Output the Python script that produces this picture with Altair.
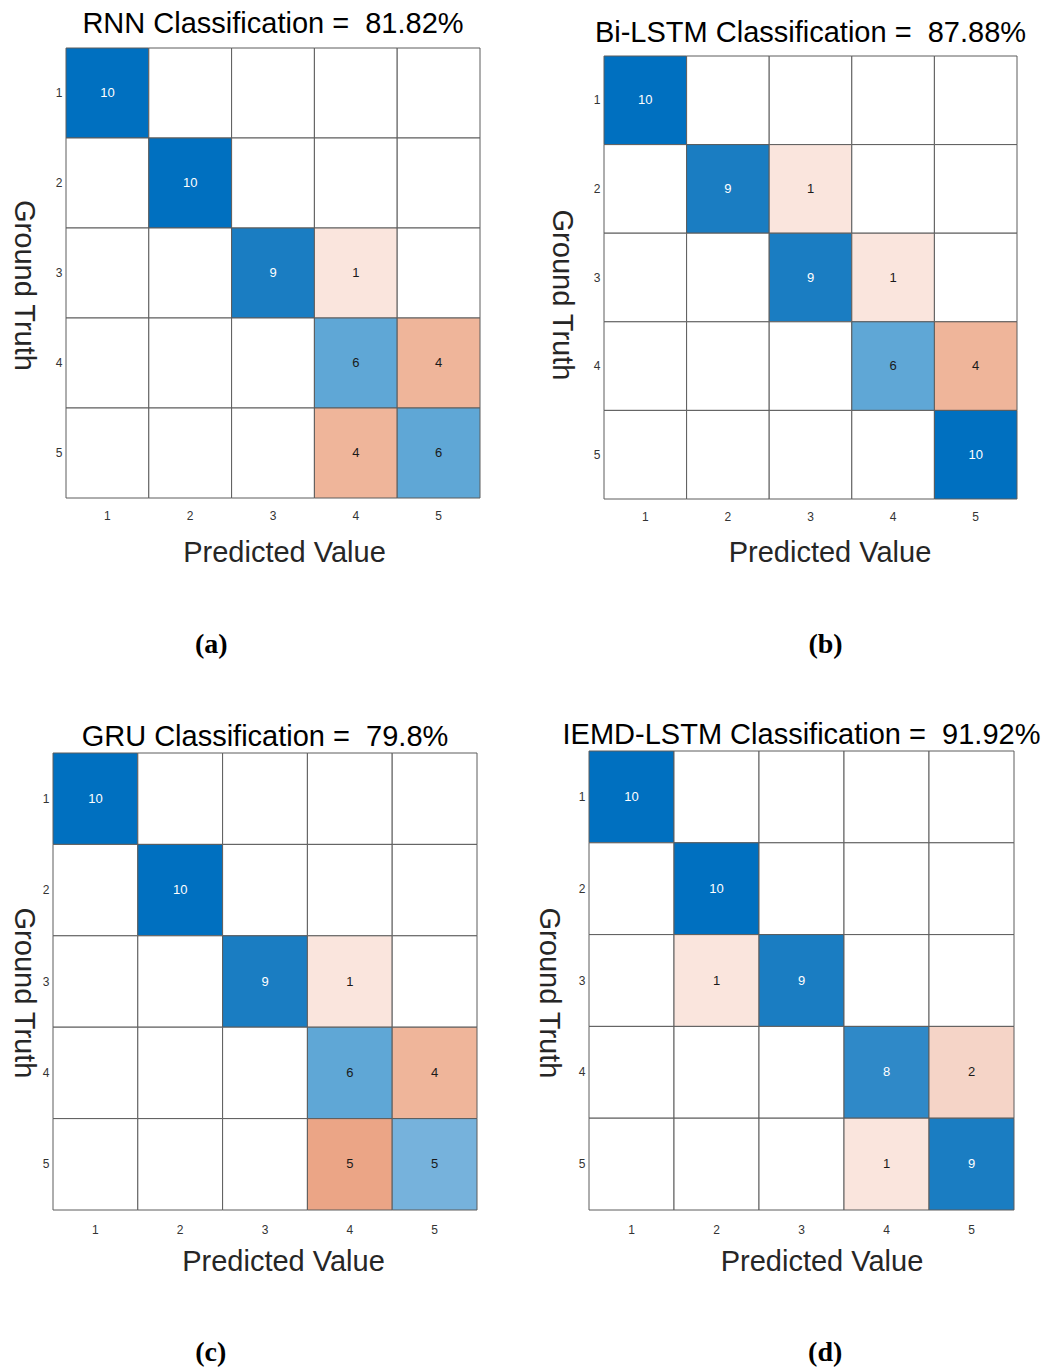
import altair as alt
import pandas as pd

# ---------------- data ----------------
CLASS_LABELS = ["1", "2", "3", "4", "5"]

RNN = [[10, 0, 0, 0, 0],
       [0, 10, 0, 0, 0],
       [0, 0, 9, 1, 0],
       [0, 0, 0, 6, 4],
       [0, 0, 0, 4, 6]]

BILSTM = [[10, 0, 0, 0, 0],
          [0, 9, 1, 0, 0],
          [0, 0, 9, 1, 0],
          [0, 0, 0, 6, 4],
          [0, 0, 0, 0, 10]]

GRU = [[10, 0, 0, 0, 0],
       [0, 10, 0, 0, 0],
       [0, 0, 9, 1, 0],
       [0, 0, 0, 6, 4],
       [0, 0, 0, 5, 5]]

IEMD = [[10, 0, 0, 0, 0],
        [0, 10, 0, 0, 0],
        [0, 1, 9, 0, 0],
        [0, 0, 0, 8, 2],
        [0, 0, 0, 1, 9]]

TITLES = ["RNN Classification =\u00a0 81.82%",
          "Bi-LSTM Classification =\u00a0 87.88%",
          "GRU Classification =\u00a0 79.8%",
          "IEMD-LSTM Classification =\u00a0 91.92%"]
CAPTIONS = ["(a)", "(b)", "(c)", "(d)"]

# signed count: + on the diagonal (blue), - off the diagonal (orange), 0 = white
COLOR_DOMAIN = [-10, -5, -4, -2, -1, 0, 5, 6, 8, 9, 10]
COLOR_RANGE = ["#D95319", "#EBA586", "#EFB59A", "#F5D4C7", "#FAE5DD", "#FFFFFF",
               "#76B2DC", "#5FA7D6", "#2F89C8", "#1A7DC2", "#0070C0"]

SANS = "Liberation Sans"
LABEL_W = 6.67  # width of a one-digit tick label at 12px


def spacer(w, h):
    return alt.Chart(pd.DataFrame({"z": [0]})).mark_point(
        size=0, opacity=0).properties(width=w, height=h)


def panel(mat, title, caption, w, h, t_off, xlp, xtp, xdx, ytp, ydy,
          vs, hs, c_off, c_dx):
    rows = []
    for i, r in enumerate(mat):
        for j, v in enumerate(r):
            rows.append({"truth": CLASS_LABELS[i], "pred": CLASS_LABELS[j],
                         "v": v, "s": v if i == j else -v})
    df = pd.DataFrame(rows)
    base = alt.Chart(df)

    x = alt.X("pred:O", sort=CLASS_LABELS,
              scale=alt.Scale(paddingInner=0, paddingOuter=0),
              axis=alt.Axis(title="Predicted Value", labelAngle=0, domain=False,
                            ticks=False, tickSize=0, labelPadding=xlp,
                            titleX=w / 2 + xdx, titleY=xlp + 11 + xtp,
                            titleBaseline="top", titleAlign="center",
                            labelFont=SANS, labelFontSize=12,
                            labelColor="#333333", titleFont=SANS, titleFontSize=29,
                            titleFontWeight="normal", titleColor="#262626"))
    y = alt.Y("truth:O", sort=CLASS_LABELS,
              scale=alt.Scale(paddingInner=0, paddingOuter=0),
              axis=alt.Axis(title="Ground Truth", domain=False, ticks=False,
                            tickSize=0, labelPadding=4,
                            titleX=-(4 + LABEL_W + ytp), titleY=h / 2 + ydy,
                            titleAngle=90, titleBaseline="top", titleAlign="center",
                            labelFont=SANS, labelFontSize=12, labelColor="#333333",
                            titleFont=SANS, titleFontSize=29,
                            titleFontWeight="normal", titleColor="#262626"))

    rect = base.mark_rect(stroke="#5c5c5c", strokeWidth=1).encode(
        x=x, y=y,
        color=alt.Color("s:O", scale=alt.Scale(domain=COLOR_DOMAIN, range=COLOR_RANGE),
                        legend=None))
    text = base.transform_filter("datum.v > 0").mark_text(
        font=SANS, fontSize=13).encode(
        x=alt.X("pred:O", sort=CLASS_LABELS),
        y=alt.Y("truth:O", sort=CLASS_LABELS),
        text="v:Q",
        color=alt.condition("datum.s >= 7", alt.value("#FFFFFF"), alt.value("#1a1a1a")))

    inner = alt.layer(rect, text).properties(
        width=w, height=h,
        title=alt.TitleParams(title, offset=t_off, font=SANS, fontSize=29,
                              fontWeight="normal", color="#000000",
                              anchor="middle", frame="group"))
    body = alt.hconcat(spacer(hs, 1), inner, spacing=0)
    return alt.vconcat(spacer(1, vs), body, spacing=0).properties(
        title=alt.TitleParams(caption, orient="bottom", anchor="middle",
                              offset=c_off, dx=c_dx, font="Liberation Serif",
                              fontSize=28, fontWeight="bold", color="#000000"))


#          data    title      caption      w    h  toff xlp xtp xdx ytp ydy vs hs coff cdx
pa = panel(RNN, TITLES[0], CAPTIONS[0], 414, 450, 9, 12, 17, 11, 18, 12, 1, 14, 64, -26)
pb = panel(BILSTM, TITLES[1], CAPTIONS[1], 413, 443, 8, 12, 16, 19, 18, 17, 10, 1, 64, 40)
pc = panel(GRU, TITLES[2], CAPTIONS[2], 424, 457, 1, 14, 12, 18, 5, 11, 3, 14, 63, -25)
pd_ = panel(IEMD, TITLES[3], CAPTIONS[3], 425, 459, 1, 14, 12, 20, 16, 12, 1, 1, 63, 39)

row1 = alt.hconcat(pa, pb, spacing=64)
row2 = alt.hconcat(pc, pd_, spacing=54)

chart = alt.vconcat(row1, row2, spacing=60).properties(
    padding={"left": -14, "top": 0, "right": 0, "bottom": 0}
).configure_view(stroke=None)

chart.save("out.html", embed_options={"renderer": "svg", "actions": False})
